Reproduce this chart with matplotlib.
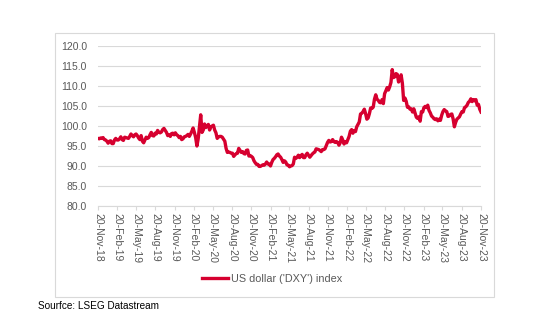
import numpy as np
import pandas as pd
import matplotlib
matplotlib.use("Agg")
import matplotlib.pyplot as plt
from matplotlib.patches import Rectangle

# weekly DXY closes, 20-Nov-18 .. 20-Nov-23
dxy_2018 = [96.9, 96.8, 97.0, 96.9, 97.1, 96.6, 96.5]
dxy_2019 = [96.2, 95.7, 96.2, 96.3, 95.6,
            95.6, 96.5, 96.9, 96.5, 96.5,
            96.8, 97.3, 96.6, 96.4, 97.2,
            97.1, 97.0, 96.9, 97.4, 98.0,
            97.6, 97.3, 97.8, 98.0, 97.6,
            97.0, 96.6, 97.6, 96.2, 95.8,
            96.5, 97.2, 96.9, 97.1, 97.8,
            98.4, 97.6, 97.5, 98.2, 98.0,
            98.9, 98.4, 98.3, 98.5, 99.1,
            99.4, 98.9, 98.4, 97.6, 97.8,
            97.4, 98.1, 98.2, 97.8, 98.3,
            97.8, 97.6, 97.1, 97.4, 96.6]
dxy_2020 = [96.8, 97.3, 97.4, 97.6, 97.9,
            97.4, 98.0, 98.7, 99.5, 98.4,
            97.1, 95.0, 96.8, 99.8, 102.8, 98.4,
            99.0, 100.5, 99.6, 100.0, 100.4,
            99.0, 99.8, 100.0, 100.2, 99.0,
            98.3, 96.9, 97.3, 97.4, 97.4,
            97.2, 96.7, 96.2, 94.4, 93.4,
            93.5, 93.4, 93.2, 93.2, 92.4,
            92.8, 93.1, 93.2, 94.4, 93.9,
            93.4, 93.6, 93.1, 93.0, 93.9,
            94.0, 92.5, 92.6, 92.4, 92.1,
            91.3, 90.8, 90.4, 90.4, 89.9]
dxy_2021 = [89.9, 90.1, 90.3, 90.2, 90.5,
            91.0, 90.5, 90.5, 90.0, 90.9,
            91.6, 91.9, 92.3, 92.8, 93.0,
            92.5, 92.2, 91.6, 90.9, 91.3,
            91.0, 90.3, 90.2, 89.8, 90.0,
            90.1, 90.5, 92.2, 91.9, 92.2,
            92.7, 92.1, 92.6, 92.9, 92.1,
            92.1, 92.8, 93.2, 92.7, 92.2,
            92.6, 93.0, 93.3, 93.5, 94.3,
            94.2, 94.1, 93.9, 93.6, 94.1,
            94.1, 94.3, 95.1, 95.9, 96.4,
            96.0, 96.1, 96.6, 96.1, 95.9]
dxy_2022 = [96.1, 95.9, 95.2, 95.8, 97.2,
            96.5, 95.5, 96.1, 95.8, 96.6,
            97.4, 98.7, 99.1, 98.2, 98.8,
            98.6, 99.8, 100.4, 101.0, 103.0,
            103.2, 103.6, 104.2, 103.1, 101.7,
            102.0, 103.1, 104.5, 104.4, 104.7,
            106.7, 107.8, 106.7, 106.4, 105.9,
            105.8, 106.6, 105.6, 108.1, 108.8,
            109.6, 109.0, 109.8, 110.9, 114.1, 112.1,
            112.3, 113.1, 112.9, 111.0, 111.5,
            112.8, 110.7, 106.4, 107.0, 106.2,
            104.7, 104.8, 104.2, 104.3, 103.5]
dxy_2023 = [104.3, 103.2, 102.2, 101.9, 102.3,
            101.2, 103.6, 103.5, 104.6, 104.9,
            104.6, 105.2, 103.9, 103.3, 102.5,
            102.2, 101.8, 101.6, 101.8, 101.3,
            101.7, 101.4, 102.7, 103.6, 104.1,
            103.8, 103.6, 102.4, 102.5, 102.9,
            103.0, 101.8, 99.8, 100.9, 101.7,
            102.0, 102.3, 103.0, 103.6, 103.5,
            104.6, 104.8, 105.2, 105.9, 106.2,
            106.8, 106.1, 106.6, 106.3, 106.6,
            105.2, 105.4, 104.2, 103.5]

dxy = dxy_2018 + dxy_2019 + dxy_2020 + dxy_2021 + dxy_2022 + dxy_2023
dates = pd.date_range("2018-11-20", "2023-11-20", periods=len(dxy))

# quarterly ticks on the 20th: Nov, Feb, May, Aug
tick_dates = pd.date_range("2018-11-01", "2023-11-01", freq="3MS") + pd.Timedelta(days=19)
tick_labels = [d.strftime("%d-%b-%y") for d in tick_dates]

RED = "#d6002f"
GREY_TXT = "#595959"
GRID = "#d9d9d9"
plt.rcParams["font.family"] = ["Liberation Sans", "DejaVu Sans"]

fig = plt.figure(figsize=(5.5, 3.3), dpi=100)
fig.patches.append(Rectangle((55 / 550, 1 - 297 / 330), 439 / 550, 264 / 330,
                             transform=fig.transFigure, fill=False,
                             edgecolor=GRID, linewidth=0.8))

ax = fig.add_axes([98 / 550, 1 - 206 / 330, 383 / 550, 160 / 330])
ax.plot(dates, dxy, color=RED, linewidth=2.4, solid_joinstyle="round",
        label="US dollar ('DXY') index")

ax.set_ylim(80, 120)
ax.set_yticks(np.arange(80, 121, 5))
ax.set_yticklabels([f"{v:.1f}" for v in np.arange(80, 121, 5)])
ax.set_xlim(tick_dates[0], tick_dates[-1])
ax.set_xticks(tick_dates)
ax.set_xticklabels(tick_labels, rotation=-90)

ax.grid(axis="y", color=GRID, linewidth=0.8)
ax.set_axisbelow(True)
for s in ["top", "right", "left"]:
    ax.spines[s].set_visible(False)
ax.spines["bottom"].set_color(GRID)
ax.tick_params(axis="y", length=0, labelsize=7.5, labelcolor=GREY_TXT, pad=8)
ax.tick_params(axis="x", length=3, color=GRID, labelsize=7.5, labelcolor=GREY_TXT, pad=2)

fig.legend(loc="center", bbox_to_anchor=(272 / 550, 1 - 279 / 330), frameon=False,
           fontsize=7.8, handlelength=2.4, handletextpad=0.25, labelcolor=GREY_TXT)
fig.text(38 / 550, 1 - 306 / 330, "Sourfce: LSEG Datastream", fontsize=7.2,
         va="center", ha="left", color="black")

fig.savefig("out.png", dpi=100)
